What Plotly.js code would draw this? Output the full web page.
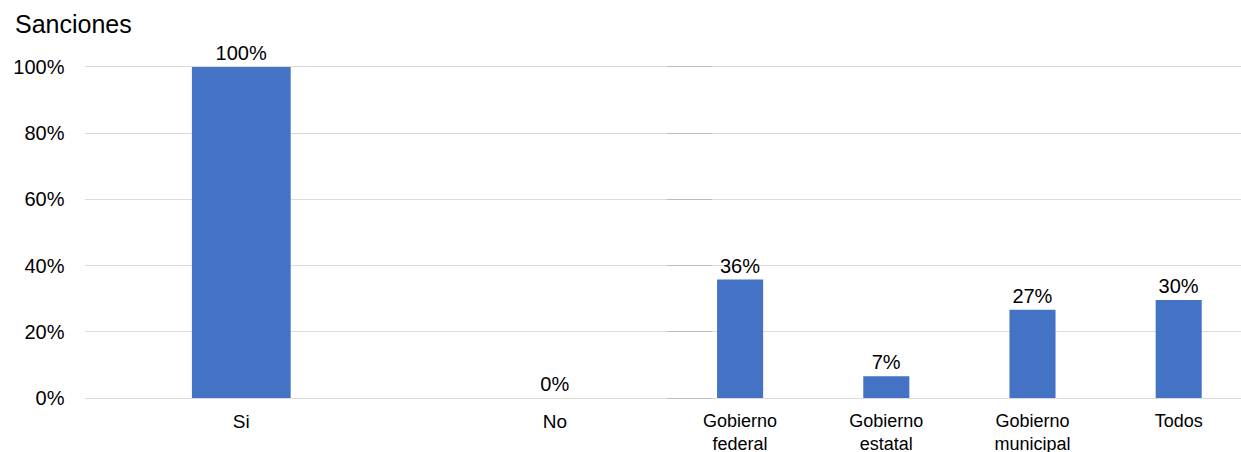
<!DOCTYPE html>
<html>
<head>
<meta charset="utf-8">
<script src="https://cdn.plot.ly/plotly-3.0.1.min.js"></script>
<style>html,body{margin:0;padding:0;background:#fff;}#chart{width:1241px;height:452px;}</style>
</head>
<body>
<div id="chart"></div>
<script>
// Group 1: ¿Sanciones?
const categoriesA = ["Si", "No"];
const valuesA = [1.00, 0.00];
// Group 2: nivel de gobierno
const categoriesB = ["Gobierno<br>federal", "Gobierno<br>estatal", "Gobierno<br>municipal", "Todos"];
const valuesB = [0.358, 0.066, 0.267, 0.296];
const yTickVals = [0, 0.2, 0.4, 0.6, 0.8, 1.0];

const W = 1241, H = 452;
const FONT = "Liberation Sans, Arial, sans-serif";
const barColor = "#4472C4";
const gridCol = "rgba(0,0,0,0.14)";
const yRange = [-0.006, 1.006];

const traceA = {
  type: "bar", x: categoriesA, y: valuesA, xaxis: "x", yaxis: "y",
  marker: {color: barColor}, width: 0.315,
  texttemplate: "%{y:.0%}", textposition: "outside", cliponaxis: false,
  textfont: {family: FONT, size: 20, color: "#000"}, hoverinfo: "x+y"
};
const traceB = {
  type: "bar", x: categoriesB, y: valuesB, xaxis: "x2", yaxis: "y2",
  marker: {color: barColor}, width: 0.315,
  texttemplate: "%{y:.0%}", textposition: "outside", cliponaxis: false,
  textfont: {family: FONT, size: 20, color: "#000"}, hoverinfo: "x+y"
};

const d1 = [84.5 / W, 711.7 / W];
const d2 = [667 / W, 1];
const catW2 = 146.2;
const range2 = [-0.5, (W - 667) / catW2 - 0.5];

const layout = {
  width: W, height: H,
  margin: {l: 0, r: 0, t: 65, b: 52},
  paper_bgcolor: "#fff", plot_bgcolor: "rgba(0,0,0,0)",
  showlegend: false,
  font: {family: FONT, size: 19, color: "#000"},
  title: {
    text: "Sanciones", x: 15 / W, xref: "container", xanchor: "left",
    y: 1 - 24 / H, yref: "container", yanchor: "middle",
    font: {family: FONT, size: 25, color: "#000"}
  },
  xaxis: {
    domain: d1, anchor: "y", type: "category", range: [-0.5, 1.5],
    showgrid: false, zeroline: false, showline: false, ticks: "",
    ticklabelstandoff: 8, tickfont: {family: FONT, size: 19, color: "#000"}, fixedrange: true
  },
  xaxis2: {
    domain: d2, anchor: "y2", type: "category", range: range2,
    showgrid: false, zeroline: false, showline: false, ticks: "",
    ticklabelstandoff: 8, tickfont: {family: FONT, size: 18, color: "#000"}, fixedrange: true
  },
  yaxis: {
    anchor: "x", range: yRange, tickvals: yTickVals, tickformat: ".0%",
    showgrid: true, gridcolor: gridCol, gridwidth: 1, zeroline: false, showline: false,
    ticks: "", ticklabelstandoff: 19, tickfont: {family: FONT, size: 20, color: "#000"}, fixedrange: true
  },
  yaxis2: {
    anchor: "x2", range: yRange, tickvals: yTickVals, showticklabels: false,
    showgrid: true, gridcolor: gridCol, gridwidth: 1, zeroline: false, showline: false,
    ticks: "", fixedrange: true
  },
  bargap: 0.685
};

Plotly.newPlot("chart", [traceA, traceB], layout, {displayModeBar: false, staticPlot: true});
</script>
</body>
</html>
